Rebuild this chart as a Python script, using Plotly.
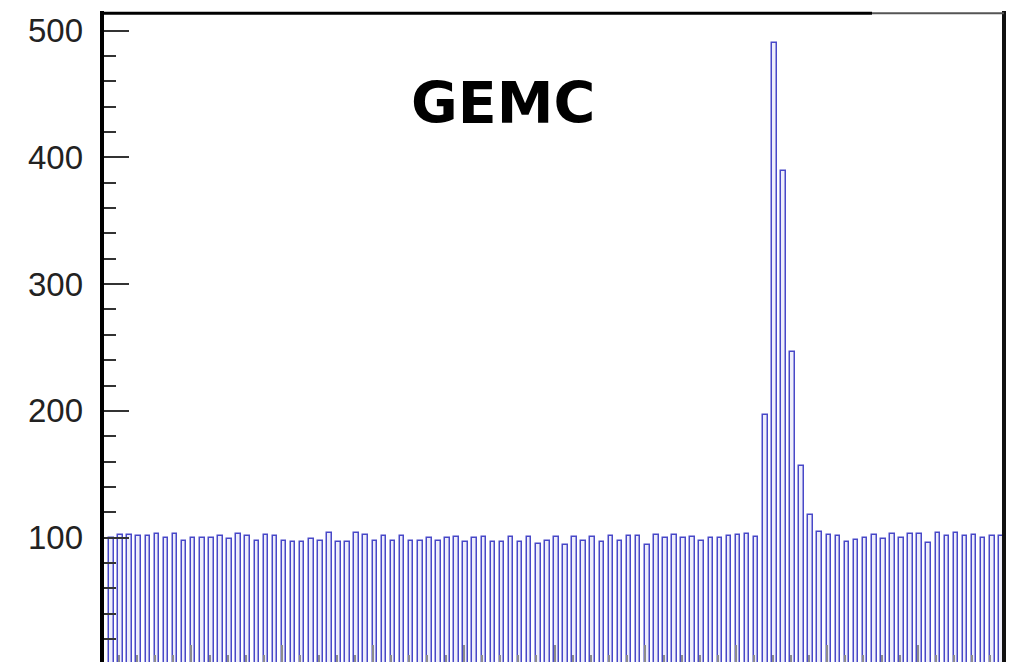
import plotly.graph_objects as go

# ---- data ----
bin_index = list(range(99))
counts = [
    100.0, 102.1, 102.1, 101.3, 101.3, 102.9, 99.5, 102.9, 97.6, 99.5,
    99.5, 99.5, 101.3, 98.7, 102.9, 101.3, 97.6, 102.1, 101.3, 97.6,
    96.8, 96.8, 98.7, 97.6, 103.4, 96.8, 96.8, 103.9, 102.1, 97.6,
    101.3, 97.6, 101.3, 97.6, 97.6, 99.5, 97.6, 99.5, 100.3, 96.8,
    99.5, 100.3, 96.8, 96.8, 100.3, 96.8, 100.3, 95.0, 97.6, 100.3,
    94.2, 100.3, 97.6, 100.3, 96.8, 101.3, 97.6, 101.3, 101.3, 94.2,
    102.1, 99.5, 102.1, 99.5, 100.3, 97.6, 99.5, 99.5, 101.3, 102.1,
    102.9, 100.3, 196.8, 490.0, 389.3, 246.2, 156.7, 118.1, 104.7, 102.1,
    101.3, 96.6, 98.1, 99.5, 102.1, 98.7, 102.9, 99.5, 102.9, 102.9,
    95.5, 103.9, 101.3, 103.9, 101.3, 102.1, 99.5, 101.3, 101.3,
]
y_tick_values = [100, 200, 300, 400, 500]
y_tick_labels = ["100", "200", "300", "400", "500"]
title_text = "GEMC"

W, H = 1011, 662
L, R, T, B = 104, 9, 14, 0
pw, ph = W - L - R, H - T - B

def px2paper_x(px):
    return (px - L) / pw

def px2paper_y(py):
    return (H - B - py) / ph

fig = go.Figure()
fig.add_trace(go.Bar(
    x=bin_index, y=counts, width=0.5,
    marker=dict(color="#eeeefb", line=dict(color="#4848c8", width=1.5)),
    showlegend=False,
))

fig.update_layout(
    width=W, height=H,
    margin=dict(l=L, r=R, t=T, b=B, pad=0),
    paper_bgcolor="white", plot_bgcolor="white",
    bargap=0,
    xaxis=dict(
        range=[-0.826, 98.07], showgrid=False, zeroline=False, showline=False,
        showticklabels=False,
        ticks="inside", tick0=8.8, dtick=10, ticklen=17, tickwidth=2,
        tickcolor="#8c8c8c",
        minor=dict(ticks="inside", tick0=0.8, dtick=2, ticklen=7,
                   tickwidth=2, tickcolor="#8c8c8c"),
    ),
    yaxis=dict(
        range=[1.89, 513.1], showgrid=False, zeroline=False, showline=False,
        tickmode="array", tickvals=y_tick_values, ticktext=y_tick_labels,
        ticks="inside", ticklen=25, tickwidth=1.6, tickcolor="#333333",
        minor=dict(ticks="inside", dtick=20, ticklen=12, tickwidth=1.6,
                   tickcolor="#333333"),
        tickfont=dict(family="Liberation Sans, Arial", size=33, color="#222222"),
        ticklabelstandoff=20,
    ),
    shapes=[
        dict(type="line", xref="paper", yref="paper",
             x0=px2paper_x(102), x1=px2paper_x(102),
             y0=px2paper_y(H + 5), y1=px2paper_y(11), line=dict(color="black", width=4)),
        dict(type="line", xref="paper", yref="paper",
             x0=px2paper_x(1004), x1=px2paper_x(1004),
             y0=px2paper_y(H + 5), y1=px2paper_y(11), line=dict(color="#111111", width=4)),
        dict(type="line", xref="paper", yref="paper",
             x0=px2paper_x(100), x1=px2paper_x(872),
             y0=px2paper_y(13.3), y1=px2paper_y(13.3), line=dict(color="black", width=3)),
        dict(type="line", xref="paper", yref="paper",
             x0=px2paper_x(872), x1=px2paper_x(1004),
             y0=px2paper_y(13.3), y1=px2paper_y(13.3), line=dict(color="#555555", width=2)),
    ],
    annotations=[
        dict(text=title_text, xref="paper", yref="paper",
             x=px2paper_x(503), y=px2paper_y(103), xanchor="center", yanchor="middle",
             showarrow=False,
             font=dict(family="DejaVu Sans", size=57, color="black", weight="bold")),
    ],
)

fig.write_html("out.html")
